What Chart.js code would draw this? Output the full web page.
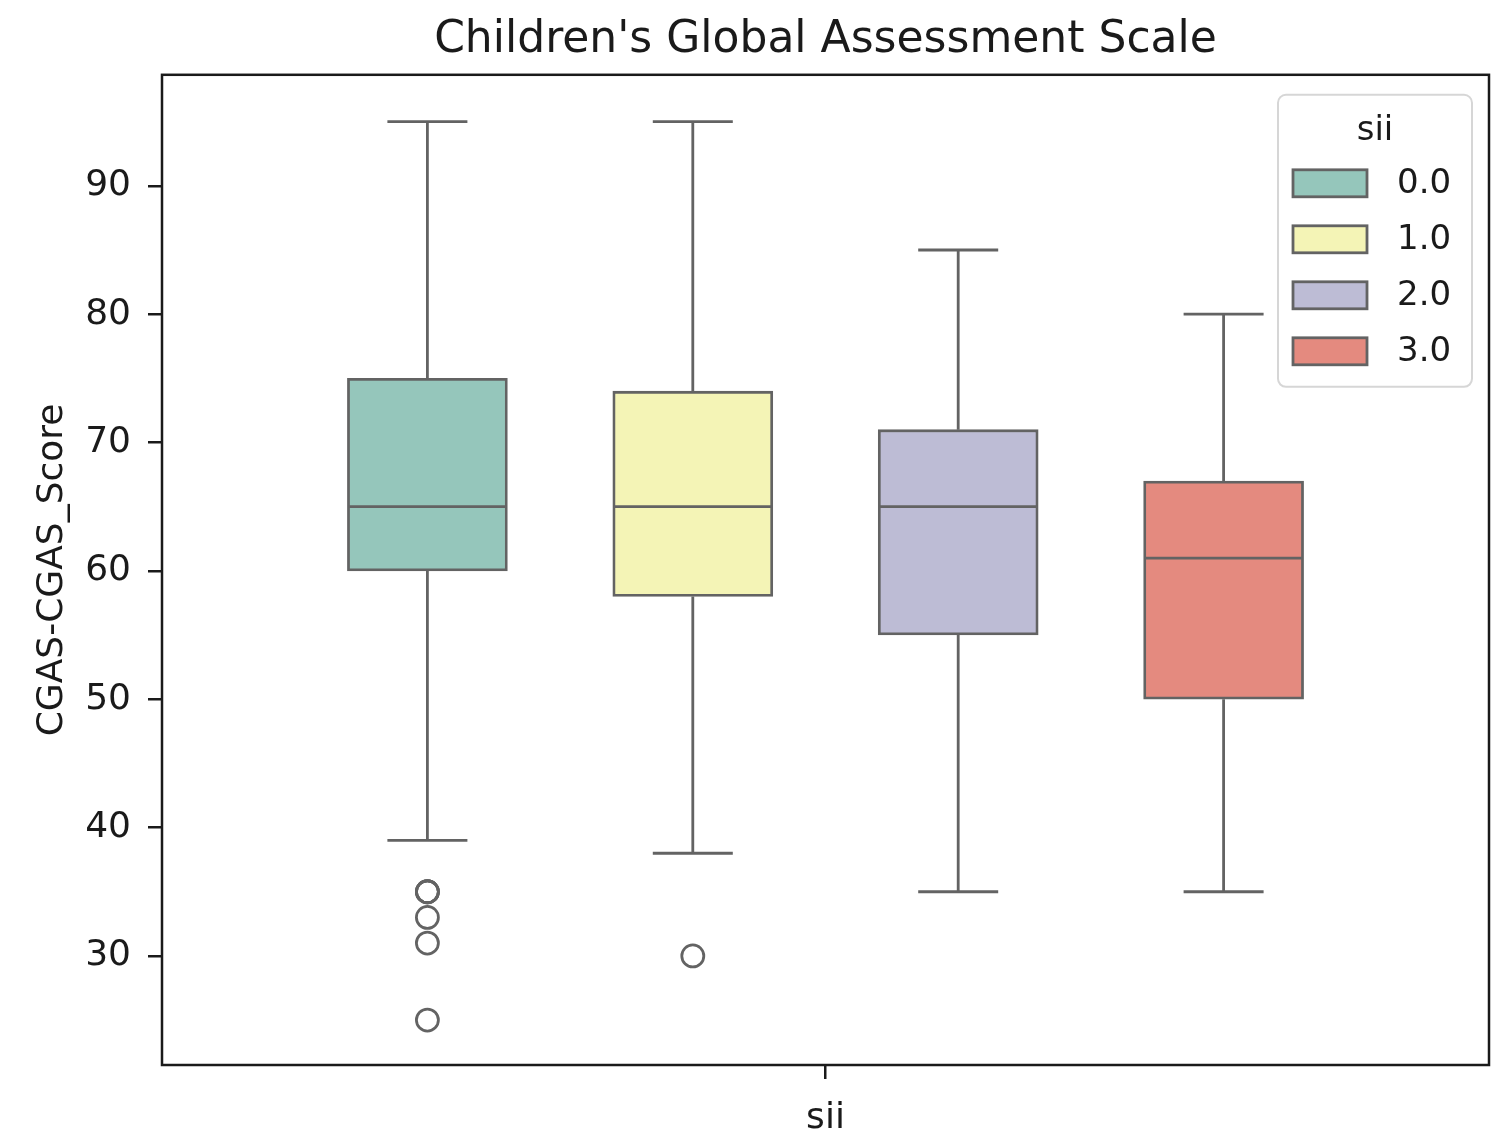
<!DOCTYPE html>
<html>
<head>
<meta charset="utf-8">
<script src="https://cdn.jsdelivr.net/npm/chart.js@4.4.1/dist/chart.umd.min.js"></script>
<style>
  html, body { margin: 0; padding: 0; background: #fff; overflow: hidden; }
  #wrap { width: 1498px; height: 1137px; }
  canvas { display: block; }
</style>
</head>
<body>
<div id="wrap"><canvas id="cgasChart" width="1498" height="1137"></canvas></div>
<script>
// box stats per sii group
const groups = ["0.0", "1.0", "2.0", "3.0"];
const whiskerLow = [39, 38, 35, 35];
const q1 = [60, 58, 55, 50];
const medians = [65, 65, 65, 61];
const q3 = [75, 74, 71, 67];
const whiskerHigh = [95, 95, 85, 80];
const outliers = [[35, 35, 35, 33, 31, 25], [30], [], []];
const yTicks = [30, 40, 50, 60, 70, 80, 90];

const boxColors = ["#95c6bb", "#f4f4b6", "#bdbcd5", "#e48a7f"];
const lineColor = "#636363";
const axisColor = "#1a1a1a";

// hue offset inside the single "sii" category
const huePos = i => (i - (groups.length - 1) / 2) * 0.2;

Chart.defaults.font.family = "'DejaVu Sans', sans-serif";
Chart.defaults.color = axisColor;

const boxDatasets = groups.map((g, i) => ({
    type: "bar",
    label: g,
    data: [{ x: huePos(i), y: [q1[i], q3[i]] }],
    backgroundColor: boxColors[i],
    borderColor: lineColor,
    borderWidth: 2.8,
    borderSkipped: false,
    barThickness: 160,
    grouped: false
}));

const outlierPoints = [];
outliers.forEach((vals, i) => {
    vals.forEach(v => outlierPoints.push({ x: huePos(i), y: v }));
});

const whiskerPlugin = {
    id: "whiskers",
    afterDatasetsDraw(chart) {
        const { ctx, scales: { x, y } } = chart;
        ctx.save();
        ctx.strokeStyle = lineColor;
        ctx.lineWidth = 2.8;
        groups.forEach((g, i) => {
            const cx = x.getPixelForValue(huePos(i));
            const half = 80, cap = 40;
            ctx.beginPath();
            // whiskers
            ctx.moveTo(cx, y.getPixelForValue(q3[i]));
            ctx.lineTo(cx, y.getPixelForValue(whiskerHigh[i]));
            ctx.moveTo(cx, y.getPixelForValue(q1[i]));
            ctx.lineTo(cx, y.getPixelForValue(whiskerLow[i]));
            // caps
            ctx.moveTo(cx - cap, y.getPixelForValue(whiskerHigh[i]));
            ctx.lineTo(cx + cap, y.getPixelForValue(whiskerHigh[i]));
            ctx.moveTo(cx - cap, y.getPixelForValue(whiskerLow[i]));
            ctx.lineTo(cx + cap, y.getPixelForValue(whiskerLow[i]));
            // median
            ctx.moveTo(cx - half + 1, y.getPixelForValue(medians[i]));
            ctx.lineTo(cx + half - 1, y.getPixelForValue(medians[i]));
            ctx.stroke();
        });
        ctx.restore();
    },
    afterDraw(chart) {
        const { ctx, chartArea: a } = chart;
        ctx.save();
        // frame (all four spines)
        ctx.strokeStyle = axisColor;
        ctx.lineWidth = 2.5;
        ctx.strokeRect(a.left, a.top, a.right - a.left, a.bottom - a.top);

        // legend box in the upper right
        const lw = 194, lh = 292;
        const lx = a.right - 17 - lw, ly = a.top + 20;
        ctx.beginPath();
        ctx.roundRect(lx, ly, lw, lh, 8);
        ctx.fillStyle = "rgba(255,255,255,0.8)";
        ctx.fill();
        ctx.strokeStyle = "#d6d6d6";
        ctx.lineWidth = 2;
        ctx.stroke();

        ctx.fillStyle = axisColor;
        ctx.font = "34px 'DejaVu Sans'";
        ctx.textAlign = "center";
        ctx.textBaseline = "alphabetic";
        ctx.fillText("sii", lx + lw / 2, ly + 45);

        groups.forEach((g, i) => {
            const py = ly + 75 + i * 56;
            ctx.fillStyle = boxColors[i];
            ctx.fillRect(lx + 15, py, 74, 27);
            ctx.strokeStyle = lineColor;
            ctx.lineWidth = 2.8;
            ctx.strokeRect(lx + 15, py, 74, 27);
            ctx.fillStyle = axisColor;
            ctx.textAlign = "left";
            ctx.textBaseline = "middle";
            ctx.fillText(g, lx + 119, py + 14);
        });
        ctx.restore();
    }
};

new Chart(document.getElementById("cgasChart"), {
    type: "bar",
    data: {
        datasets: [
            ...boxDatasets,
            {
                type: "scatter",
                label: "outliers",
                data: outlierPoints,
                pointStyle: "circle",
                pointRadius: 11,
                pointBorderWidth: 2.8,
                pointBorderColor: lineColor,
                pointBackgroundColor: "rgba(0,0,0,0)"
            }
        ]
    },
    options: {
        responsive: false,
        animation: false,
        layout: { autoPadding: false, padding: { left: 0, right: 9, top: 0, bottom: 0 } },
        plugins: {
            legend: { display: false },
            tooltip: { enabled: false },
            title: {
                display: true,
                text: "Children's Global Assessment Scale",
                fullSize: false,
                font: { size: 44, weight: "normal", lineHeight: 1.2 },
                color: axisColor,
                padding: { top: 14, bottom: 8 }
            }
        },
        scales: {
            x: {
                type: "linear",
                min: -0.5,
                max: 0.5,
                offset: false,
                afterBuildTicks: s => { s.ticks = [{ value: 0 }]; },
                afterFit: s => { s.height = 72; },
                ticks: { callback: () => "", font: { size: 36 } },
                grid: { offset: false, drawOnChartArea: false, drawTicks: true, tickLength: 14, color: axisColor, lineWidth: 2.5 },
                border: { display: false },
                title: { display: true, text: "sii", font: { size: 36, lineHeight: 1 }, padding: { top: 0, bottom: 0 } }
            },
            y: {
                type: "linear",
                min: 21.5,
                max: 98.65,
                afterBuildTicks: s => { s.ticks = yTicks.map(v => ({ value: v })); },
                afterFit: s => { s.width = 162; },
                ticks: { font: { size: 36 }, padding: 17, includeBounds: false },
                grid: { drawOnChartArea: false, drawTicks: true, tickLength: 14, color: axisColor, lineWidth: 2.5 },
                border: { display: false },
                title: { display: true, text: "CGAS-CGAS_Score", font: { size: 36, lineHeight: 1 }, padding: { top: 35, bottom: 0 } }
            }
        }
    },
    plugins: [whiskerPlugin]
});
</script>
</body>
</html>
